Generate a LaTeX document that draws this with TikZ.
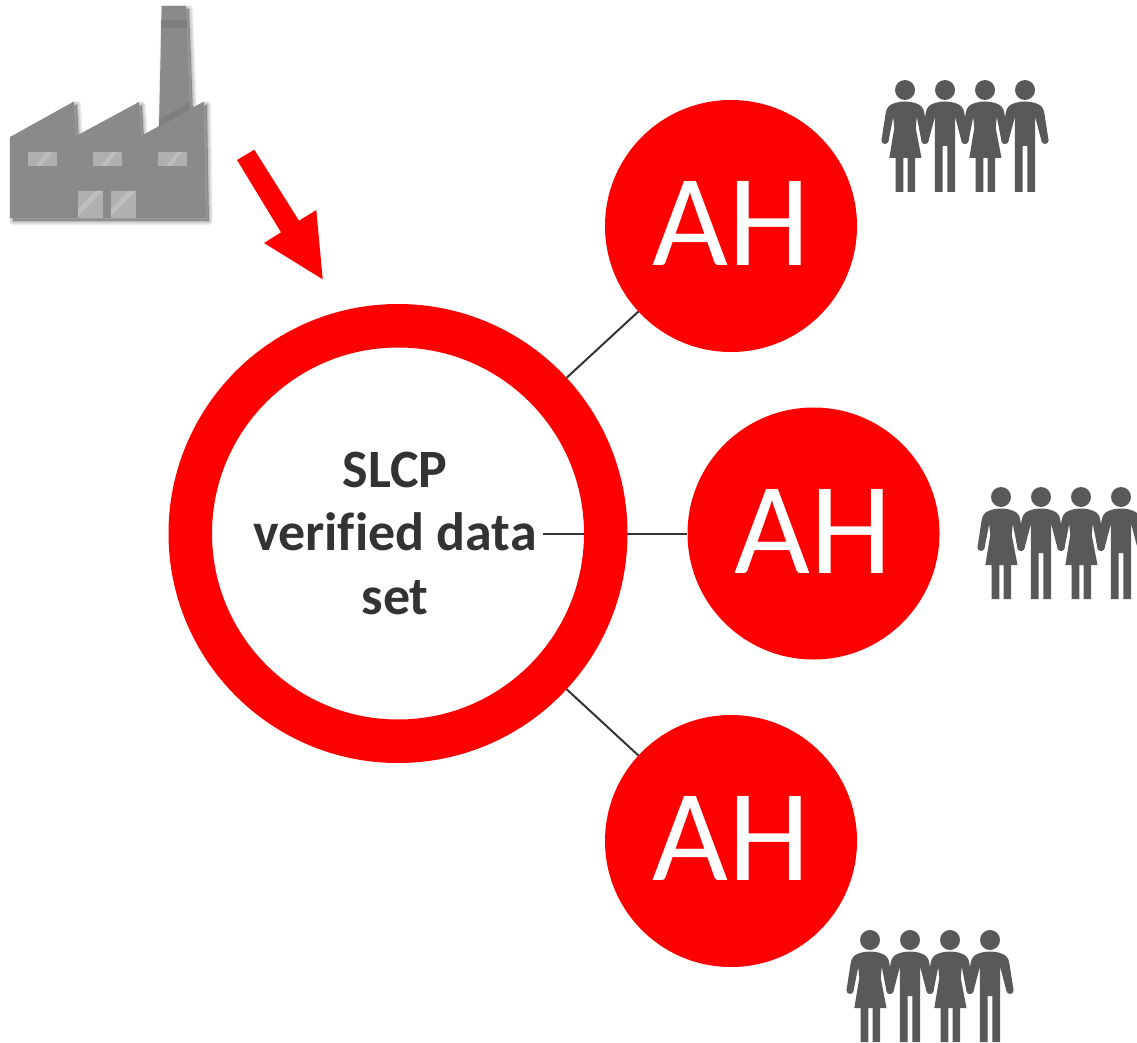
\documentclass[tikz,border=0pt]{standalone}
\usepackage{fontspec}
\setmainfont[Ligatures=NoCommon]{Carlito}
\definecolor{slred}{HTML}{FF0000}
\definecolor{inkgrey}{HTML}{333333}
\definecolor{folk}{HTML}{595959}
\definecolor{plant}{HTML}{8A8A8A}
\definecolor{plantdark}{HTML}{7E7E7E}
\definecolor{pane}{HTML}{B0B0B0}
\definecolor{panelight}{HTML}{BEBEBE}
\def\factoryoutline{(10,137) -- (74,101.5) -- (76,136) -- (139,102) -- (141,136) -- (159,126) -- (161.7,6) -- (186,6) -- (190,109) -- (204,101.5) -- (206,218) -- (10,218) -- cycle}
\tikzset{
  ahnode/.style={circle,fill=slred,minimum size=252pt,inner sep=0pt,text=white,
    font=\fontsize{131}{131}\selectfont},
  link/.style={draw=inkgrey,line width=2pt},
  pics/womanfig/.style={code={
    \fill[folk] (0,0) circle (10);
    \fill[folk] (0,11.5) .. controls (-7,11.5) and (-13,13.5) .. (-16,16) .. controls (-18,18) and (-18.8,20) .. (-19.3,23)
      -- (-23.5,50) -- (-16.6,51.5) -- (-11.8,27) -- (-10.7,38) -- (-15.7,68) -- (16.5,68) -- (10.7,38) -- (11.8,27)
      -- (16.6,51.5) -- (23.5,50) -- (19.3,23) .. controls (18.8,20) and (18,18) .. (16,16)
      .. controls (13,13.5) and (7,11.5) .. (0,11.5) -- cycle;
    \fill[folk] (-20,50.5) circle (3.5) (20,50.5) circle (3.5);
    \fill[folk] (-9.3,66) rectangle (-1.7,102) (2.7,66) rectangle (10.2,102);
  }},
  pics/manfig/.style={code={
    \fill[folk] (0,0) circle (10);
    \fill[folk] (0,11.5) .. controls (-7,11.5) and (-13,13.5) .. (-16,16) .. controls (-18,18) and (-18.8,20) .. (-19.3,23)
      -- (-23.5,50) -- (-16.6,51.5) -- (-10.2,27) -- (-10.2,102) -- (-2.3,102) -- (-2.3,56) -- (2.3,56) -- (2.3,102)
      -- (10.2,102) -- (10.2,27) -- (16.6,51.5) -- (23.5,50) -- (19.3,23) .. controls (18.8,20) and (18,18) .. (16,16)
      .. controls (13,13.5) and (7,11.5) .. (0,11.5) -- cycle;
    \fill[folk] (-20,50.5) circle (3.5) (20,50.5) circle (3.5);
  }},
  pics/crowd/.style={code={
    \pic at (0,0) {womanfig};
    \pic at (40,0) {manfig};
    \pic at (80,0) {womanfig};
    \pic at (120,0) {manfig};
  }}
}
\begin{document}
\begin{tikzpicture}[x=1pt,y=-1pt]
\clip (0,0) rectangle (1137,1043);
\fill[white] (0,0) rectangle (1137,1043);
% factory shadow
\begin{scope}[shift={(3,3)}]
\foreach \w in {8,6,4,2}{
  \draw[black,opacity=0.06,line width=\w pt,line join=round] \factoryoutline;
}
\fill[black,opacity=0.3] \factoryoutline;
\end{scope}
\fill[plant] \factoryoutline;
\fill[plantdark] (161.2,20) rectangle (186.5,28);
\fill[plantdark] (159,120) -- (190,102) -- (190,109) -- (159,127) -- cycle;
\foreach \x in {28,93,158}{
  \fill[pane] (\x,152) rectangle ++(29,14);
  \fill[panelight] (\x+8,166) -- (\x+19,152) -- (\x+24,152) -- (\x+13,166) -- cycle;
}
\foreach \x in {78,111}{
  \fill[pane] (\x,191) rectangle ++(25,27);
  \fill[panelight] (\x,209) -- (\x+17,191) -- (\x+25,191) -- (\x,216) -- cycle;
}
% arrow
\fill[slred] (237,160) -- (254.3,149.7) -- (299,220.7) -- (316.3,210) -- (322.7,279.3) -- (264,243) -- (281,232.3) -- cycle;
% hub and connectors
\node[circle,fill=white,minimum size=372pt,inner sep=0pt] (hubdisc) at (398,533.5) {};
\node[ahnode] (ah1) at (731,226) {\raisebox{5pt}{AH}};
\node[ahnode] (ah2) at (813.5,533.5) {\raisebox{5pt}{AH}};
\node[ahnode] (ah3) at (731,841) {\raisebox{5pt}{AH}};
\coordinate (textend) at (543,533.5);
\draw[link] (textend) -- (ah2);
\node[circle,draw=slred,line width=43.5pt,minimum size=415.5pt,inner sep=0pt] (hubring) at (398,533.5) {};
\draw[link] (hubring) -- (ah1);
\draw[link] (hubring) -- (ah3);
\node[align=center,inner sep=0pt,text=inkgrey,font=\fontsize{54}{63.5}\selectfont\bfseries] (hublabel) at (395,533) {SLCP\\verified data\\set};
% people
\pic at (905,90) {crowd};
\pic at (1001,497) {crowd};
\pic at (870,940) {crowd};
\end{tikzpicture}
\end{document}
